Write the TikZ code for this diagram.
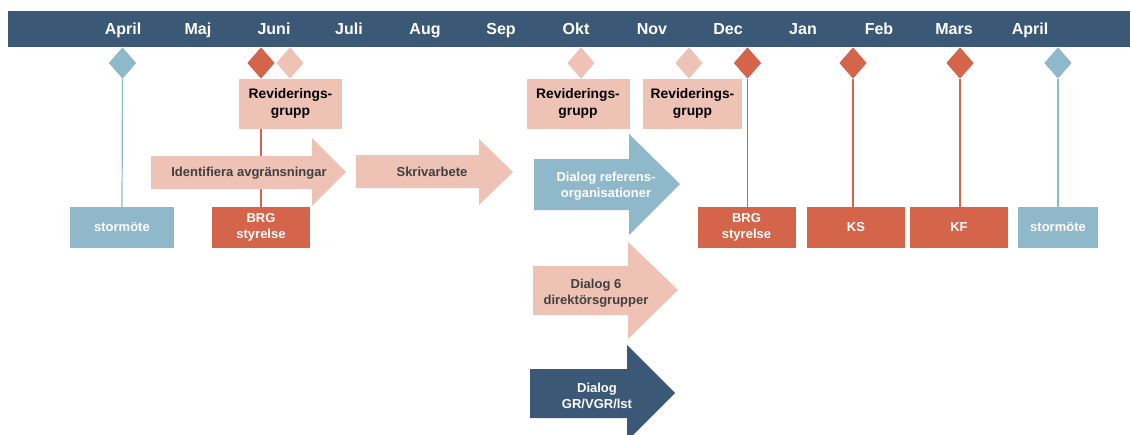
\documentclass[tikz,border=0pt]{standalone}
\usepackage{fontspec}
\setmainfont{Liberation Sans}
\usetikzlibrary{shapes.geometric}
\definecolor{navy}{HTML}{3B5876}
\definecolor{lblue}{HTML}{8FB8CA}
\definecolor{rust}{HTML}{D4644A}
\definecolor{pinkish}{HTML}{EEC3B5}
\definecolor{dgray}{HTML}{404040}
\begin{document}
\begin{tikzpicture}[x=1pt,y=-1pt,
  month/.style={text=white,font=\bfseries\fontsize{16}{18}\selectfont,inner sep=0pt,anchor=base},
  box/.style={rectangle,inner sep=0pt,align=center,font=\bfseries\fontsize{13}{16}\selectfont},
  lowbox/.style={box,minimum height=41pt},
  revbox/.style={box,fill=pinkish,text=black,minimum height=50pt,font=\bfseries\fontsize{13.8}{16.5}\selectfont},
  redbox/.style={lowbox,fill=rust,text=white},
  bluebox/.style={lowbox,fill=lblue,text=white},
  dia/.style={diamond,inner sep=0pt,minimum width=27pt,minimum height=31pt},
  reddia/.style={dia,fill=rust},
  pinkdia/.style={dia,fill=pinkish},
  bluedia/.style={dia,fill=lblue},
  arrowtext/.style={box,inner sep=0pt},
  redline/.style={draw=rust,line width=1.2pt},
  blueline/.style={draw=lblue,line width=1.2pt}
]
\useasboundingbox (0,0) rectangle (1130,434);
\clip (0,0) rectangle (1130,434);
\fill[white] (0,0) rectangle (1130,434);

% header bar
\fill[navy] (8,11) rectangle (1131,47);
\foreach \m/\x in {April/123,Maj/198,Juni/274,Juli/349,Aug/425,Sep/501,Okt/576,Nov/652,Dec/728,Jan/803,Feb/879,Mars/954,April/1030}
  \node[month] at (\x,34) {\m};

% diamonds
\node[bluedia] (d1) at (122.5,63) {};
\node[reddia] (d2) at (261,63) {};
\node[pinkdia] (d3) at (290,63) {};
\node[pinkdia] (d4) at (581,63) {};
\node[pinkdia] (d5) at (689,63) {};
\node[reddia] (d6) at (747.5,63) {};
\node[reddia] (d7) at (853,63) {};
\node[reddia] (d8) at (960,63) {};
\node[bluedia] (d9) at (1058,63) {};

% lower boxes
\node[bluebox,minimum width=104pt] (s1) at (122,227.5) {stormöte};
\node[redbox,minimum width=98pt] (b1) at (261,227.5) {BRG\\styrelse};
\node[redbox,minimum width=98pt] (b2) at (746.5,227.5) {BRG\\styrelse};
\node[redbox,minimum width=98pt] (ks) at (856,227.5) {KS};
\node[redbox,minimum width=98pt] (kf) at (959,227.5) {KF};
\node[bluebox,minimum width=80pt] (s2) at (1058,227.5) {stormöte};

% connectors (behind)
\draw[blueline] (d1.south) -- (s1.north);
\draw[redline] (d2.south) -- (b1.north);
\draw[redline] (d6.south) -- (d6.south |- b2.north);
\draw[redline] (d7.south) -- (d7.south |- ks.north);
\draw[redline] (d8.south) -- (d8.south |- kf.north);
\draw[blueline] (d9.south) -- (s2.north);

% redraw lower boxes over lines
\node[bluebox,minimum width=104pt] at (s1) {stormöte};
\node[redbox,minimum width=98pt] at (b1) {BRG\\styrelse};
\node[redbox,minimum width=98pt] at (b2) {BRG\\styrelse};
\node[redbox,minimum width=98pt] at (ks) {KS};
\node[redbox,minimum width=98pt] at (kf) {KF};
\node[bluebox,minimum width=80pt] at (s2) {stormöte};

% revideringsgrupp boxes
\node[revbox,minimum width=103pt] (r1) at (290.5,103.5) {Reviderings-\\grupp};
\node[revbox,minimum width=103pt] (r2) at (578,103.5) {Reviderings-\\grupp};
\node[revbox,minimum width=99pt] (r3) at (692.5,103.5) {Reviderings-\\grupp};

% arrows
\fill[pinkish] (151,156) -- (312,156) -- (312,138) -- (346,172) -- (312,206) -- (312,189) -- (151,189) -- cycle;
\node[arrowtext,text=dgray] (a1) at (249,173) {Identifiera avgränsningar};
\fill[pinkish] (356,155) -- (479,155) -- (479,139) -- (513,172) -- (479,205) -- (479,188) -- (356,188) -- cycle;
\node[arrowtext,text=dgray] (a2) at (432,172) {Skrivarbete};
\fill[lblue] (534,159) -- (629,159) -- (629,134) -- (680,184) -- (629,235) -- (629,210) -- (534,210) -- cycle;
\node[arrowtext,text=white] (a3) at (606,186) {Dialog referens-\\organisationer};
\fill[pinkish] (533,266) -- (628,266) -- (628,242) -- (678,290) -- (628,339) -- (628,315) -- (533,315) -- cycle;
\node[arrowtext,text=dgray] (a4) at (596,293) {Dialog 6\\direktörsgrupper};
\fill[navy] (530,369) -- (627,369) -- (627,345) -- (675,393) -- (627,441) -- (627,418) -- (530,418) -- cycle;
\node[arrowtext,text=white] (a5) at (597,396) {Dialog\\GR/VGR/lst};

% diamonds on top
\node[bluedia] at (d1) {};
\node[reddia] at (d2) {};
\node[pinkdia] at (d3) {};
\node[pinkdia] at (d4) {};
\node[pinkdia] at (d5) {};
\node[reddia] at (d6) {};
\node[reddia] at (d7) {};
\node[reddia] at (d8) {};
\node[bluedia] at (d9) {};
\end{tikzpicture}
\end{document}
